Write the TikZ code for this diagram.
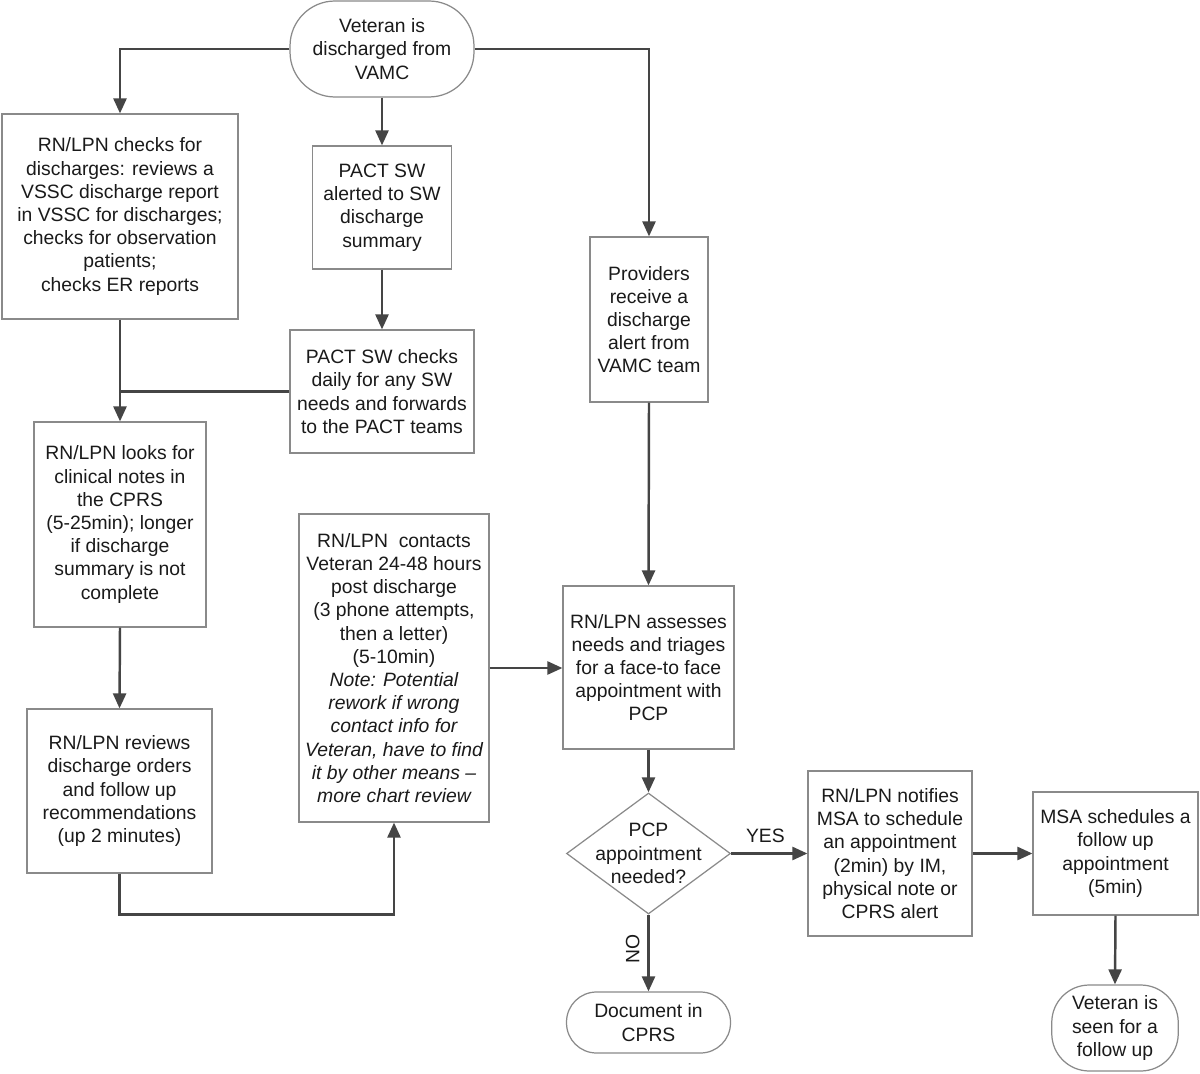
\documentclass[tikz,border=0pt]{standalone}
\usepackage{fontspec}
\setmainfont{Liberation Sans}
\usetikzlibrary{arrows.meta,shapes.geometric}
\definecolor{lnc}{HTML}{454545}
\definecolor{bdc}{HTML}{8A8A8A}
\definecolor{txc}{HTML}{1A1A1A}
\begin{document}
\begin{tikzpicture}[x=0.02cm,y=-0.02cm,
  every node/.style={font=\fontsize{11}{13.2}\selectfont, text=txc},
  box/.style={draw=bdc, line width=0.7pt, fill=white, align=center, inner sep=0pt},
  term/.style={box, rounded corners=#1},
  arr/.style={draw=lnc, line width=1.4pt, -{Triangle[length=0.3cm,width=0.26cm]}},
  ln/.style={draw=lnc, line width=1.4pt}
]
\useasboundingbox (0,0) rectangle (1200,1074);
\fill[white] (0,0) rectangle (1200,1074);

\node[term=0.9cm, minimum width=3.68cm, minimum height=1.92cm] (start) at (382,49)
  {Veteran is\\discharged from\\VAMC};
\node[box, minimum width=4.72cm, minimum height=4.1cm] (b1) at (120,216.5)
  {RN/LPN checks for\\discharges: reviews a\\VSSC discharge report\\in VSSC for discharges;\\checks for observation\\patients;\\checks ER reports};
\node[box, minimum width=2.78cm, minimum height=2.46cm] (sw1) at (382,207.5)
  {PACT SW\\alerted to SW\\discharge\\summary};
\node[box, minimum width=3.68cm, minimum height=2.46cm] (sw2) at (382,391.5)
  {PACT SW checks\\daily for any SW\\needs and forwards\\to the PACT teams};
\node[box, minimum width=2.36cm, minimum height=3.3cm] (prov) at (649,319.5)
  {Providers\\receive a\\discharge\\alert from\\VAMC team};
\node[box, minimum width=3.44cm, minimum height=4.1cm] (b3) at (120,524.5)
  {RN/LPN looks for\\clinical notes in\\the CPRS\\(5-25min); longer\\if discharge\\summary is not\\complete};
\node[box, minimum width=3.7cm, minimum height=3.28cm] (b4) at (119.5,791)
  {RN/LPN reviews\\discharge orders\\and follow up\\recommendations\\(up 2 minutes)};
\node[box, minimum width=3.8cm, minimum height=6.16cm] (b5) at (394,668)
  {RN/LPN\ \ contacts\\Veteran 24-48 hours\\post discharge\\(3 phone attempts,\\then a letter)\\(5-10min)\\
   \itshape Note: Potential\\\itshape rework if wrong\\\itshape contact info for\\\itshape Veteran, have to find\\\itshape it by other means --\\\itshape more chart review};
\node[box, minimum width=3.42cm, minimum height=3.26cm] (b6) at (648.5,667.5)
  {RN/LPN assesses\\needs and triages\\for a face-to face\\appointment with\\PCP};
\node[draw=bdc, line width=0.7pt, shape=diamond, aspect=1.355, inner sep=0pt,
  minimum width=3.28cm, minimum height=2.42cm] (dec) at (648.5,853.5) {};
\node[align=center, inner sep=0pt] (dectxt) at (dec.center) {PCP\\appointment\\needed?};
\node[box, minimum width=3.28cm, minimum height=3.3cm] (b7) at (890,853.5)
  {RN/LPN notifies\\MSA to schedule\\an appointment\\(2min) by IM,\\physical note or\\CPRS alert};
\node[box, minimum width=3.3cm, minimum height=2.46cm] (b8) at (1115.5,853.5)
  {MSA schedules a\\follow up\\appointment\\(5min)};
\node[term=0.6cm, minimum width=3.28cm, minimum height=1.22cm] (doc) at (648.5,1022.5)
  {Document in\\CPRS};
\node[term=0.75cm, minimum width=2.53cm, minimum height=1.72cm] (seen) at (1115,1028)
  {Veteran is\\seen for a\\follow up};

\draw[arr] (start.west) -| (b1.north);
\draw[arr] (start.south) -- (sw1.north);
\draw[arr] (start.east) -| (prov.north);
\draw[arr] (sw1.south) -- (sw2.north);
\draw[arr] (b1.south) -- (b3.north);
\draw[ln] (sw2.west) -- (sw2.west -| b1.south);
\draw[arr] (b3.south) -- (b4.north);
\draw[arr] (b4.south) -- ++(0,41) -| (b5.south);
\draw[arr] (b5.east) -- (b6.west |- b5.east);
\draw[arr] (prov.south) -- (b6.north);
\draw[arr] (b6.south) -- (dec.north);
\draw[arr] (dec.east) -- node[above, pos=0.45, yshift=2pt] (yes) {YES} (b7.west);
\draw[arr] (b7.east) -- (b8.west);
\draw[arr] (dec.south) -- node[pos=0.45, rotate=90, anchor=south, yshift=1pt] (no) {NO} (doc.north);
\draw[arr] (b8.south) -- (seen.north);
\end{tikzpicture}
\end{document}
